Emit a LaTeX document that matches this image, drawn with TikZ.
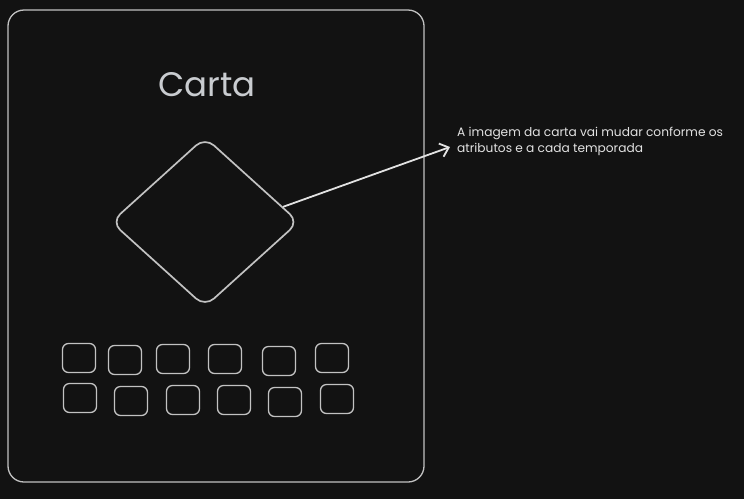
\documentclass[tikz,border=0pt]{standalone}
\usepackage{fontspec}
\setmainfont{Poppins}
\usepackage{tikz}
\usetikzlibrary{arrows.meta,positioning,shapes.geometric}
\definecolor{canvas}{HTML}{121212}
\definecolor{stroke}{HTML}{C2C2C2}
\definecolor{inkwhite}{HTML}{E2E2E2}
\definecolor{titlegrey}{HTML}{C9CCD0}

\begin{document}
\begin{tikzpicture}[
  x=1pt, y=-1pt,
  card/.style={draw=stroke, line width=1.3pt, rounded corners=16pt},
  artwork/.style={diamond, draw=stroke, line width=1.7pt, rounded corners=12pt, minimum width=188pt, minimum height=170pt, inner sep=0pt},
  slot/.style={draw=stroke, line width=1.3pt, rounded corners=6pt, minimum width=33pt, minimum height=29pt, inner sep=0pt},
  note/.style={align=left, text=inkwhite, font=\fontsize{12.2}{16}\selectfont, inner sep=0pt},
  arr/.style={-{Straight Barb[length=8pt, width=14pt]}, line width=1.8pt, inkwhite}
]
  \fill[canvas] (0,0) rectangle (744,499);
  \useasboundingbox (0,0) rectangle (744,499);

  \draw[card] (8,10) rectangle (424,482);
  \node[text=titlegrey, font=\fontsize{34}{40}\selectfont] (title) at (207,85) {Carta};
  \node[artwork] (img) at (205,222) {};

  % first row of slots
  \node[slot] (s11) at (79,358) {};
  \node[slot] (s12) at (125,360) {};
  \node[slot] (s13) at (173,359) {};
  \node[slot] (s14) at (225,359) {};
  \node[slot] (s15) at (279,361) {};
  \node[slot] (s16) at (332,358) {};

  % second row of slots
  \node[slot] (s21) at (80,398) {};
  \node[slot] (s22) at (131,401) {};
  \node[slot] (s23) at (183,400) {};
  \node[slot] (s24) at (234,400) {};
  \node[slot] (s25) at (285,402) {};
  \node[slot] (s26) at (337,399) {};

  \node[note, anchor=north west] (caption) at (457,127) {A imagem da carta vai mudar conforme os\\atributos e a cada temporada};
  \coordinate (tip) at (450,147);

  \draw[arr] (img.11) -- (tip);
\end{tikzpicture}
\end{document}
